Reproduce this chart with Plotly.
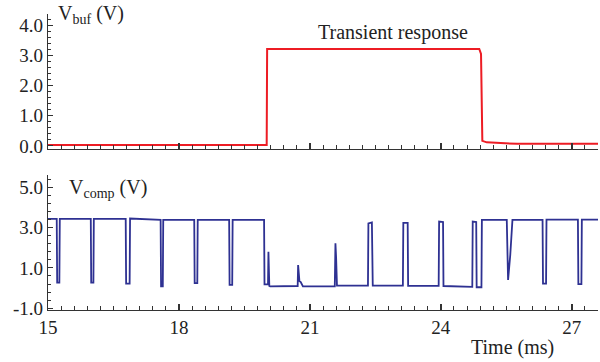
import plotly.graph_objects as go

# ---- data ----
buf_t = [15.0, 20.01, 20.02, 24.88, 24.92, 24.95, 25.05, 25.3, 25.75, 27.6]
buf_v = [0.03, 0.03, 3.21, 3.21, 3.05, 0.17, 0.12, 0.10, 0.07, 0.07]

comp_t = [15.00,
          15.20, 15.21, 15.26, 15.27,
          15.98, 15.99, 16.04, 16.05,
          16.78, 16.79, 16.87, 16.88,
          17.58, 17.59, 17.63, 17.64,
          18.35, 18.36, 18.42, 18.43,
          19.15, 19.16, 19.22, 19.23,
          19.95, 19.96, 20.04, 20.05, 20.07, 20.09,
          20.72, 20.73, 20.76, 20.79, 20.84,
          21.57, 21.58, 21.585, 21.60, 21.62,
          22.33, 22.34, 22.42, 22.44,
          23.13, 23.14, 23.24, 23.25,
          23.95, 23.96, 24.05, 24.06,
          24.72, 24.73, 24.81, 24.82, 24.93, 24.94,
          25.51, 25.54, 25.59, 25.64,
          26.33, 26.34, 26.41, 26.42,
          27.14, 27.15, 27.22, 27.23,
          27.60]
comp_v = [3.43,
          3.43, 0.27, 0.27, 3.43,
          3.43, 0.27, 0.27, 3.43,
          3.43, 0.22, 0.22, 3.45,
          3.38, 0.08, 0.08, 3.38,
          3.38, 0.24, 0.24, 3.38,
          3.38, 0.16, 0.16, 3.38,
          3.38, 0.18, 0.18, 1.80, 0.10, 0.08,
          0.10, 1.14, 0.35, 0.30, 0.08,
          0.08, 1.53, 2.22, 1.53, 0.12,
          0.12, 3.21, 3.26, 0.12,
          0.12, 3.23, 3.23, 0.11,
          0.11, 3.30, 3.28, 0.10,
          0.06, 3.30, 3.28, 0.04, 0.04, 3.38,
          3.38, 0.40, 1.64, 3.38,
          3.38, 0.22, 0.22, 3.40,
          3.40, 0.19, 0.19, 3.40,
          3.40]

x_ticks = [15, 18, 21, 24, 27]
buf_ticks = [0, 1, 2, 3, 4]
buf_labels = ["0.0", "1.0", "2.0", "3.0", "4.0"]
comp_ticks = [-1, 1, 3, 5]
comp_labels = ["-1.0", "1.0", "3.0", "5.0"]

FONT = "Liberation Serif, Times New Roman, Times, serif"
AX = "#333333"
TXT = "#222222"

fig = go.Figure()
fig.add_trace(go.Scatter(x=buf_t, y=buf_v, mode="lines",
                         line=dict(color="#ed1c24", width=2),
                         xaxis="x2", yaxis="y2", showlegend=False))
fig.add_trace(go.Scatter(x=comp_t, y=comp_v, mode="lines",
                         line=dict(color="#2e3192", width=1.8),
                         xaxis="x", yaxis="y", showlegend=False))

common_x = dict(range=[15, 27.6], showgrid=False, zeroline=False,
                showline=True, linecolor=AX, linewidth=1.2,
                ticks="inside", ticklen=6, tickcolor=AX, tickwidth=1.5,
                tickvals=x_ticks, automargin=False,
                minor=dict(ticks="inside", ticklen=4, tick0=15, dtick=0.3,
                           tickcolor=AX, tickwidth=1, showgrid=False),
                tickfont=dict(family=FONT, size=19, color=TXT))

common_y = dict(showgrid=False, zeroline=False, showline=True, linecolor=AX,
                linewidth=1.2, ticks="inside", ticklen=5, tickcolor=AX,
                tickwidth=1, automargin=False,
                tickfont=dict(family=FONT, size=19, color=TXT))

fig.update_layout(
    width=600, height=362,
    margin=dict(l=48, r=2, t=14, b=52),
    plot_bgcolor="white", paper_bgcolor="white",
    font=dict(family=FONT, color=TXT),
    xaxis=dict(common_x, domain=[0, 1], anchor="y", showticklabels=True),
    xaxis2=dict(common_x, domain=[0, 1], anchor="y2", matches="x",
                showticklabels=False),
    yaxis=dict(common_y, domain=[0, 0.456], range=[-1.09, 5.61],
               tickvals=comp_ticks, ticktext=comp_labels,
               minor=dict(ticks="inside", ticklen=3, tick0=-1, dtick=0.4,
                          tickcolor=AX, showgrid=False)),
    yaxis2=dict(common_y, domain=[0.544, 1], range=[-0.1, 4.37],
                tickvals=buf_ticks, ticktext=buf_labels,
                minor=dict(ticks="inside", ticklen=3, tick0=0, dtick=0.2,
                           tickcolor=AX, showgrid=False)),
    annotations=[
        dict(text="V<sub>buf</sub> (V)", x=15.18, y=4.34, xref="x2", yref="y2",
             xanchor="left", yanchor="middle", showarrow=False,
             font=dict(family=FONT, size=20, color=TXT)),
        dict(text="Transient response", x=22.9, y=3.77, xref="x2", yref="y2",
             xanchor="center", yanchor="middle", showarrow=False,
             font=dict(family=FONT, size=20, color=TXT)),
        dict(text="V<sub>comp</sub> (V)", x=15.44, y=4.96, xref="x", yref="y",
             xanchor="left", yanchor="middle", showarrow=False,
             font=dict(family=FONT, size=20, color=TXT)),
        dict(text="Time (ms)", x=25.65, y=-0.125, xref="x", yref="paper",
             xanchor="center", yanchor="middle", showarrow=False,
             font=dict(family=FONT, size=20, color=TXT)),
    ],
)

fig.write_html("out.html",
               config={"displayModeBar": False},
               post_script="document.body.style.margin='0';")
